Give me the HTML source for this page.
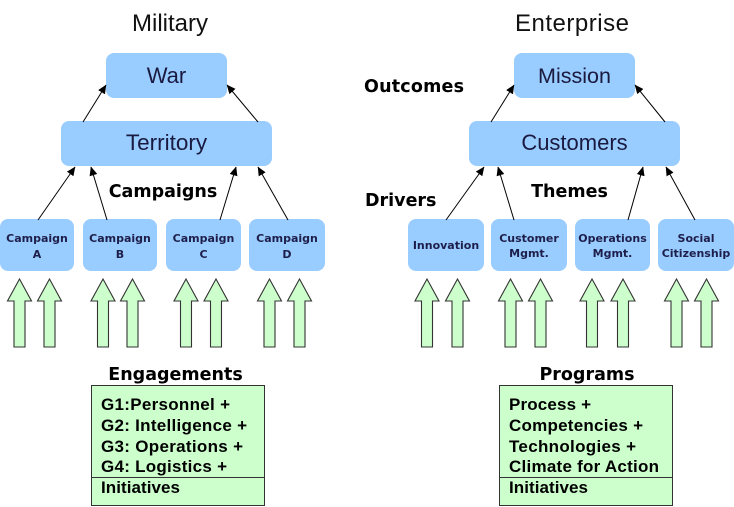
<!DOCTYPE html>
<html><head><meta charset="utf-8"><style>
html,body{margin:0;padding:0;background:#fff;}
svg{display:block;}
.t{font-family:"Liberation Sans",Arial,sans-serif;}
.v{font-family:"DejaVu Sans","Liberation Sans",sans-serif;font-weight:bold;}
</style></head><body>
<svg width="734" height="507" viewBox="0 0 734 507" xmlns="http://www.w3.org/2000/svg">
<defs>
<marker id="ah" markerWidth="9" markerHeight="8" refX="8.5" refY="4" orient="auto" markerUnits="userSpaceOnUse">
<path d="M0,0 L9,4 L0,8 Z" fill="#000"/>
</marker>
<path id="ga" d="M0,0 L12,22 L5.5,22 L5.5,68 L-5.5,68 L-5.5,22 L-12,22 Z" fill="#ccffcc" stroke="#333" stroke-width="1.1"/>
</defs>

<!-- Titles -->
<text class="t" x="170" y="31" font-size="24" text-anchor="middle" fill="#111" textLength="76">Military</text>
<text class="t" x="572" y="31" font-size="24" text-anchor="middle" fill="#111" textLength="114">Enterprise</text>

<!-- Left big boxes -->
<rect x="106" y="53" width="121" height="45" rx="8" fill="#99ccff"/>
<text class="t" x="166.5" y="83" font-size="22" text-anchor="middle" fill="#1a1a40">War</text>
<rect x="61" y="121" width="211" height="45" rx="8" fill="#99ccff"/>
<text class="t" x="166.5" y="150" font-size="22.5" text-anchor="middle" fill="#1a1a40">Territory</text>

<!-- Right big boxes -->
<rect x="514" y="53" width="121" height="45" rx="8" fill="#99ccff"/>
<text class="t" x="574.5" y="83" font-size="21.5" text-anchor="middle" fill="#1a1a40">Mission</text>
<rect x="469" y="121" width="211" height="45" rx="8" fill="#99ccff"/>
<text class="t" x="574.5" y="150" font-size="22" text-anchor="middle" fill="#1a1a40">Customers</text>

<!-- Labels -->
<text class="v" x="163" y="197" font-size="17.5" text-anchor="middle" fill="#000">Campaigns</text>
<text class="v" x="364" y="92" font-size="17.5" fill="#000" textLength="100">Outcomes</text>
<text class="v" x="365" y="206" font-size="17.5" fill="#000">Drivers</text>
<text class="v" x="569.5" y="197" font-size="17.5" text-anchor="middle" fill="#000">Themes</text>

<!-- Left small boxes -->
<g fill="#99ccff">
<rect x="0" y="219" width="74" height="52" rx="8"/>
<rect x="83" y="219" width="74" height="52" rx="8"/>
<rect x="166" y="219" width="75" height="52" rx="8"/>
<rect x="249" y="219" width="76" height="52" rx="8"/>
<rect x="408" y="219" width="76" height="52" rx="8"/>
<rect x="491" y="219" width="76" height="52" rx="8"/>
<rect x="575" y="219" width="75" height="52" rx="8"/>
<rect x="658" y="219" width="76" height="52" rx="8"/>
</g>
<g class="v" font-size="11" fill="#1e1e4a" text-anchor="middle">
<text x="37" y="242">Campaign</text><text x="37" y="258">A</text>
<text x="120" y="242">Campaign</text><text x="120" y="258">B</text>
<text x="203.5" y="242">Campaign</text><text x="203.5" y="258">C</text>
<text x="287" y="242">Campaign</text><text x="287" y="258">D</text>
<text x="446" y="249">Innovation</text>
<text x="529" y="242">Customer</text><text x="529" y="257">Mgmt.</text>
<text x="612.5" y="242">Operations</text><text x="612.5" y="257">Mgmt.</text>
<text x="696" y="242">Social</text><text x="696" y="257">Citizenship</text>
</g>

<!-- Connectors -->
<g stroke="#000" stroke-width="1" marker-end="url(#ah)">
<line x1="83" y1="122" x2="106" y2="85"/>
<line x1="258" y1="122" x2="227" y2="85"/>
<line x1="38" y1="220" x2="75" y2="167"/>
<line x1="107" y1="220" x2="91" y2="167"/>
<line x1="220" y1="220" x2="236" y2="167"/>
<line x1="288" y1="220" x2="258" y2="167"/>
<line x1="491" y1="122" x2="514" y2="85"/>
<line x1="665" y1="122" x2="635" y2="85"/>
<line x1="446" y1="220" x2="484" y2="167"/>
<line x1="514" y1="220" x2="498" y2="167"/>
<line x1="628" y1="220" x2="643" y2="167"/>
<line x1="695" y1="220" x2="666" y2="167"/>
</g>

<!-- Green block arrows -->
<g>
<use href="#ga" x="19.5" y="279"/>
<use href="#ga" x="49.5" y="279"/>
<use href="#ga" x="103" y="279"/>
<use href="#ga" x="132.5" y="279"/>
<use href="#ga" x="186" y="279"/>
<use href="#ga" x="216" y="279"/>
<use href="#ga" x="269.5" y="279"/>
<use href="#ga" x="299.5" y="279"/>
<use href="#ga" x="427" y="279"/>
<use href="#ga" x="457.5" y="279"/>
<use href="#ga" x="510.5" y="279"/>
<use href="#ga" x="540.5" y="279"/>
<use href="#ga" x="592" y="279"/>
<use href="#ga" x="623" y="279"/>
<use href="#ga" x="676.5" y="279"/>
<use href="#ga" x="706.5" y="279"/>
</g>

<!-- Bottom labels -->
<text class="v" x="175.5" y="380" font-size="17.5" text-anchor="middle" fill="#000">Engagements</text>
<text class="v" x="587" y="380" font-size="17.5" text-anchor="middle" fill="#000">Programs</text>

<!-- Bottom boxes -->
<rect x="91.5" y="385.5" width="173" height="120" fill="#ccffcc" stroke="#333" stroke-width="1"/>
<line x1="91.5" y1="477.5" x2="264.5" y2="477.5" stroke="#333" stroke-width="1"/>
<rect x="499.5" y="385.5" width="173" height="120" fill="#ccffcc" stroke="#333" stroke-width="1"/>
<line x1="499.5" y1="477.5" x2="672.5" y2="477.5" stroke="#333" stroke-width="1"/>

<g class="t" font-size="17" font-weight="bold" fill="#000">
<text x="101" y="410" textLength="129">G1:Personnel +</text>
<text x="101" y="431" textLength="146">G2: Intelligence +</text>
<text x="101" y="452" textLength="142">G3: Operations +</text>
<text x="101" y="472" textLength="126">G4: Logistics +</text>
<text x="101" y="493" textLength="79">Initiatives</text>
<text x="509" y="410" textLength="82">Process +</text>
<text x="509" y="431" textLength="134">Competencies +</text>
<text x="509" y="452" textLength="127">Technologies +</text>
<text x="509" y="472" textLength="150">Climate for Action</text>
<text x="509" y="493" textLength="79">Initiatives</text>
</g>
</svg>
</body></html>
